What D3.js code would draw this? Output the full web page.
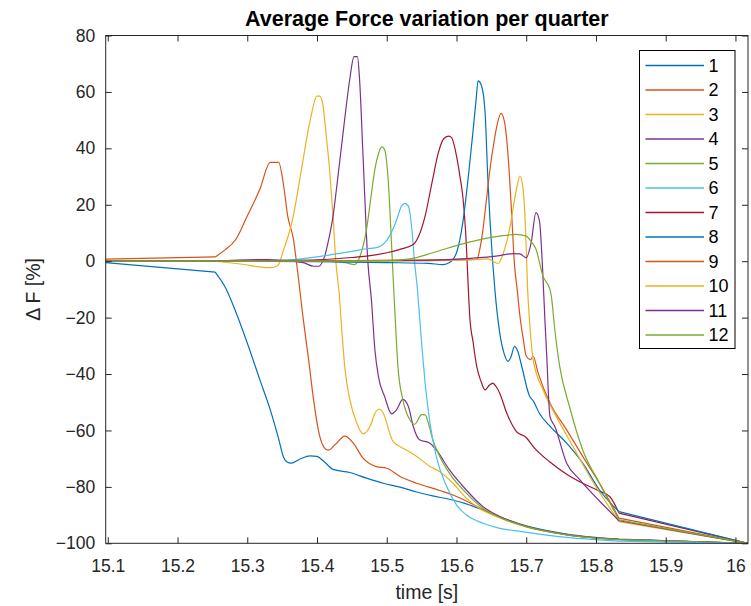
<!DOCTYPE html>
<html>
<head>
<meta charset="utf-8">
<script src="https://cdn.jsdelivr.net/npm/d3@7"></script>
<style>
  body { margin: 0; background: #fff; }
  svg { display: block; font-family: "Liberation Sans", Arial, sans-serif; }
  .axis path, .axis line { stroke: #262626; }
  .axis text { fill: #262626; font-size: 17.5px; }
</style>
</head>
<body>
<svg id="chart" width="751" height="606"></svg>
<script>
// time [s], delta F [%] per quarter
const s1 = [[15.097,-0.5],[15.254,-3.9],[15.27,-10],[15.285,-18.9],[15.30,-29],[15.318,-42],[15.333,-52.7],[15.345,-63],[15.352,-69.5],[15.357,-71.2],[15.363,-71.6],[15.375,-70.2],[15.39,-69],[15.40,-69.2],[15.41,-71],[15.423,-73.8],[15.447,-74.9],[15.471,-76.9],[15.495,-78.7],[15.519,-80.1],[15.543,-81.8],[15.566,-83.2],[15.59,-84.4],[15.614,-86],[15.638,-88.2],[15.662,-90.6],[15.70,-93.8],[15.758,-96.7],[15.833,-98.5],[16.018,-100]];
const s2 = [[15.097,0.7],[15.254,1.5],[15.268,4],[15.283,7.5],[15.30,16],[15.318,25.5],[15.333,35],[15.345,35],[15.352,27],[15.358,16],[15.366,8],[15.373,-5.3],[15.38,-20],[15.388,-35],[15.395,-49],[15.402,-60],[15.41,-66],[15.416,-67],[15.426,-65],[15.44,-62],[15.452,-64.5],[15.466,-69.8],[15.485,-72.8],[15.5,-73.4],[15.519,-76.3],[15.543,-78.7],[15.576,-81.3],[15.60,-83.4],[15.614,-85],[15.638,-88],[15.662,-90.6],[15.70,-94],[15.758,-96.9],[15.833,-98.6],[16.018,-100]];
const s3 = [[15.097,0],[15.254,0],[15.29,-1],[15.333,-2.3],[15.344,-1.5],[15.352,4],[15.36,10],[15.366,16],[15.378,33],[15.39,49.7],[15.40,58.5],[15.404,58.5],[15.408,56],[15.413,45],[15.418,32.6],[15.423,16],[15.427,0],[15.432,-12],[15.436,-26],[15.44,-38],[15.447,-49],[15.457,-57.4],[15.466,-61.2],[15.476,-58.6],[15.483,-54],[15.489,-52.4],[15.497,-55],[15.503,-60],[15.509,-63.9],[15.528,-66.9],[15.543,-69.2],[15.562,-72.8],[15.576,-74.6],[15.595,-78.7],[15.614,-84],[15.638,-88.4],[15.662,-91],[15.70,-94.2],[15.758,-97],[15.833,-98.7],[16.018,-100]];
const s4 = [[15.097,0],[15.254,0],[15.33,0.6],[15.38,-0.5],[15.395,-1.8],[15.402,-1.8],[15.411,1.8],[15.417,8],[15.423,16],[15.43,30],[15.438,46.8],[15.447,64.5],[15.453,72.5],[15.458,72.5],[15.461,64.5],[15.466,37.3],[15.473,-0.6],[15.478,-13.6],[15.483,-31.4],[15.488,-40.8],[15.497,-48],[15.507,-54.1],[15.514,-52.7],[15.523,-49],[15.531,-51.5],[15.538,-58.6],[15.547,-63.3],[15.562,-64.5],[15.571,-66.9],[15.59,-74],[15.614,-81.1],[15.638,-87],[15.662,-90.5],[15.686,-92.9],[15.70,-94],[15.758,-96.9],[15.833,-98.6],[16.018,-100]];
const s5 = [[15.097,0],[15.254,0],[15.40,0],[15.44,-0.5],[15.454,-1.2],[15.462,2],[15.471,11.3],[15.477,22],[15.483,32.6],[15.488,38],[15.493,40.5],[15.497,39.5],[15.502,29],[15.507,5.3],[15.51,-10],[15.512,-19.5],[15.516,-37.3],[15.523,-49],[15.533,-56.2],[15.54,-57.8],[15.55,-54.4],[15.555,-54.5],[15.559,-56.8],[15.566,-63.3],[15.576,-69.2],[15.59,-75.2],[15.614,-82.2],[15.638,-87.6],[15.662,-90.8],[15.70,-94.1],[15.758,-97],[15.833,-98.7],[16.018,-100]];
const s6 = [[15.097,0],[15.254,0],[15.35,0.3],[15.40,1.5],[15.423,2.4],[15.45,3.5],[15.471,4.4],[15.488,5],[15.497,6.5],[15.504,8.9],[15.51,12],[15.516,16],[15.521,19.5],[15.526,20.5],[15.531,19.5],[15.536,11.3],[15.54,-0.6],[15.544,-10],[15.547,-19.5],[15.551,-32],[15.555,-43.2],[15.562,-57.4],[15.571,-69.2],[15.586,-79.9],[15.60,-86.4],[15.614,-89.9],[15.638,-92.9],[15.662,-94.7],[15.686,-95.6],[15.758,-97.9],[15.833,-99.2],[16.018,-100]];
const s7 = [[15.097,0],[15.254,0],[15.40,0.5],[15.45,1.3],[15.471,1.8],[15.50,3],[15.519,4.2],[15.538,5.9],[15.546,9],[15.555,16],[15.565,28],[15.574,38.5],[15.582,43.5],[15.589,44.3],[15.593,43.8],[15.60,37.3],[15.605,30],[15.609,23.1],[15.614,6.5],[15.617,-10],[15.619,-19.5],[15.624,-29],[15.629,-37.3],[15.635,-42.5],[15.641,-45.6],[15.647,-44],[15.652,-43.2],[15.657,-44.5],[15.662,-46.8],[15.672,-53.8],[15.686,-60.4],[15.70,-62.5],[15.71,-65.7],[15.734,-71.2],[15.758,-75.5],[15.781,-78.7],[15.805,-81.5],[15.82,-83.5],[15.833,-89.3],[16.018,-100]];
const s8 = [[15.097,0],[15.254,0],[15.40,-0.2],[15.50,-0.5],[15.56,-0.8],[15.581,-1.2],[15.59,-0.5],[15.60,3],[15.609,13.6],[15.617,30],[15.624,46.8],[15.628,57],[15.631,63.9],[15.636,62.1],[15.641,52.7],[15.645,29],[15.652,-0.6],[15.655,-10],[15.662,-25.4],[15.668,-32.5],[15.674,-35.5],[15.678,-34],[15.683,-30.3],[15.688,-32],[15.693,-36.7],[15.705,-48],[15.71,-49.5],[15.719,-54],[15.734,-58.5],[15.758,-64.5],[15.781,-71.6],[15.805,-81.1],[15.833,-88.8],[16.018,-100]];
const s9 = [[15.097,0],[15.254,0],[15.50,0.3],[15.60,0.5],[15.629,0.6],[15.634,5],[15.638,11.3],[15.643,22],[15.648,32.6],[15.653,41],[15.657,46.8],[15.664,52.4],[15.669,49.1],[15.674,37.3],[15.679,17.2],[15.683,-0.6],[15.687,-10],[15.691,-19.5],[15.696,-28],[15.70,-33.7],[15.706,-34.9],[15.71,-33.7],[15.717,-39.6],[15.734,-50.3],[15.758,-59.8],[15.781,-69.2],[15.805,-78.7],[15.833,-91.1],[16.018,-100]];
const s10 = [[15.097,0],[15.254,0],[15.50,0],[15.62,0.5],[15.645,0.8],[15.655,-0.4],[15.66,-0.8],[15.666,2],[15.676,11.3],[15.686,25.5],[15.691,30.2],[15.695,26.6],[15.699,11.3],[15.702,-10],[15.705,-22],[15.71,-34.9],[15.724,-45.6],[15.743,-55],[15.767,-65.7],[15.791,-76.3],[15.833,-92.3],[16.018,-100]];
const s11 = [[15.097,0],[15.254,0],[15.55,0.3],[15.62,1],[15.662,2],[15.681,2.7],[15.691,2.6],[15.70,1.2],[15.707,6.5],[15.714,17.2],[15.719,14.2],[15.723,-0.6],[15.727,-21.9],[15.729,-31.4],[15.734,-55],[15.741,-58.6],[15.758,-71.6],[15.777,-77.5],[15.805,-85],[15.833,-92],[16.018,-100]];
const s12 = [[15.097,0],[15.254,0],[15.50,0.2],[15.533,0.8],[15.566,3],[15.614,6.5],[15.662,8.9],[15.686,9.5],[15.70,8.9],[15.707,7],[15.714,4.2],[15.724,-5.3],[15.734,-10],[15.736,-12.4],[15.741,-24.3],[15.748,-37.3],[15.762,-51.5],[15.781,-66.9],[15.805,-78.7],[15.833,-91.7],[16.018,-100]];

const seriesData = [s1, s2, s3, s4, s5, s6, s7, s8, s9, s10, s11, s12];
const legendLabels = ['1','2','3','4','5','6','7','8','9','10','11','12'];
const xTicks = [15.1, 15.2, 15.3, 15.4, 15.5, 15.6, 15.7, 15.8, 15.9, 16];
const yTicks = [-100, -80, -60, -40, -20, 0, 20, 40, 60, 80];

// MATLAB default colour order (repeats after 7)
const colors = ['#0072BD','#D95319','#EDB120','#7E2F8E','#77AC30','#4DBEEE','#A2142F'];

const svg = d3.select('#chart');
const mLeft = 105.7, mRight = 748, mTop = 35.5, mBottom = 543.3;

const x = d3.scaleLinear().domain([15.097, 16.018]).range([mLeft, mRight]);
const y = d3.scaleLinear().domain([-100, 80]).range([mBottom, mTop]);

// Lines: the first and last segments are long straight gaps in the samples,
// the dense middle part is drawn smooth
const straight = d3.line().x(d => x(d[0])).y(d => y(d[1]));
const smooth = d3.line().x(d => x(d[0])).y(d => y(d[1])).curve(d3.curveMonotoneX);
function seriesPath(d) {
  const n = d.length;
  return straight(d.slice(0, 2)) + smooth(d.slice(1, n - 1)) + straight(d.slice(n - 2));
}

const plot = svg.append('g');
plot.append('clipPath').attr('id', 'clip')
  .append('rect').attr('x', mLeft).attr('y', mTop).attr('width', mRight - mLeft).attr('height', mBottom - mTop);
plot.selectAll('path.series')
  .data(seriesData)
  .enter()
  .append('path')
  .attr('class', 'series')
  .attr('clip-path', 'url(#clip)')
  .attr('d', seriesPath)
  .attr('fill', 'none')
  .attr('stroke', (d, i) => colors[i % 7])
  .attr('stroke-width', 1.2)
  .attr('stroke-linejoin', 'round');

// Axes (ticks point inward, box on)
svg.append('g').attr('class', 'axis')
  .attr('transform', `translate(0,${mBottom})`)
  .call(d3.axisBottom(x).tickValues(xTicks).tickFormat(d3.format('')).tickSizeInner(-6).tickSizeOuter(0).tickPadding(16.5));
svg.append('g').attr('class', 'axis')
  .attr('transform', `translate(0,${mTop})`)
  .call(d3.axisTop(x).tickValues(xTicks).tickFormat('').tickSizeInner(-6).tickSizeOuter(0));
svg.append('g').attr('class', 'axis')
  .attr('transform', `translate(${mLeft},0)`)
  .call(d3.axisLeft(y).tickValues(yTicks).tickFormat(d3.format('')).tickSizeInner(-6).tickSizeOuter(0).tickPadding(10.5));
svg.append('g').attr('class', 'axis')
  .attr('transform', `translate(${mRight},0)`)
  .call(d3.axisRight(y).tickValues(yTicks).tickFormat('').tickSizeInner(-6).tickSizeOuter(0));
svg.selectAll('.axis .domain').remove();
svg.append('rect')
  .attr('x', mLeft).attr('y', mTop)
  .attr('width', mRight - mLeft).attr('height', mBottom - mTop)
  .attr('fill', 'none').attr('stroke', '#262626').attr('stroke-width', 1);

// Title and axis labels
svg.append('text')
  .attr('x', (mLeft + mRight) / 2).attr('y', 26)
  .attr('text-anchor', 'middle')
  .style('font-size', '21.5px').style('font-weight', 'bold').attr('fill', '#000')
  .text('Average Force variation per quarter');
svg.append('text')
  .attr('x', (mLeft + mRight) / 2).attr('y', 599)
  .attr('text-anchor', 'middle')
  .style('font-size', '19.5px').attr('fill', '#262626')
  .text('time [s]');
svg.append('text')
  .attr('transform', `translate(40,${(mTop + mBottom) / 2}) rotate(-90)`)
  .attr('text-anchor', 'middle')
  .style('font-size', '19.5px').attr('fill', '#262626')
  .text('Δ F [%]');

// Legend
const legend = svg.append('g');
legend.append('rect')
  .attr('x', 639.5).attr('y', 50.5).attr('width', 95.5).attr('height', 298)
  .attr('fill', '#fff').attr('stroke', '#000').attr('stroke-width', 1);
const item = legend.selectAll('g.item')
  .data(legendLabels)
  .enter()
  .append('g')
  .attr('class', 'item')
  .attr('transform', (d, i) => `translate(0,${65.5 + i * 24.5})`);
item.append('line')
  .attr('x1', 645.5).attr('x2', 704)
  .attr('stroke', d => colors[(+d - 1) % 7])
  .attr('stroke-width', 1.5);
item.append('text')
  .attr('x', 708.5).attr('dy', '0.35em')
  .style('font-size', '18px').attr('fill', '#000')
  .text(d => d);
</script>
</body>
</html>
